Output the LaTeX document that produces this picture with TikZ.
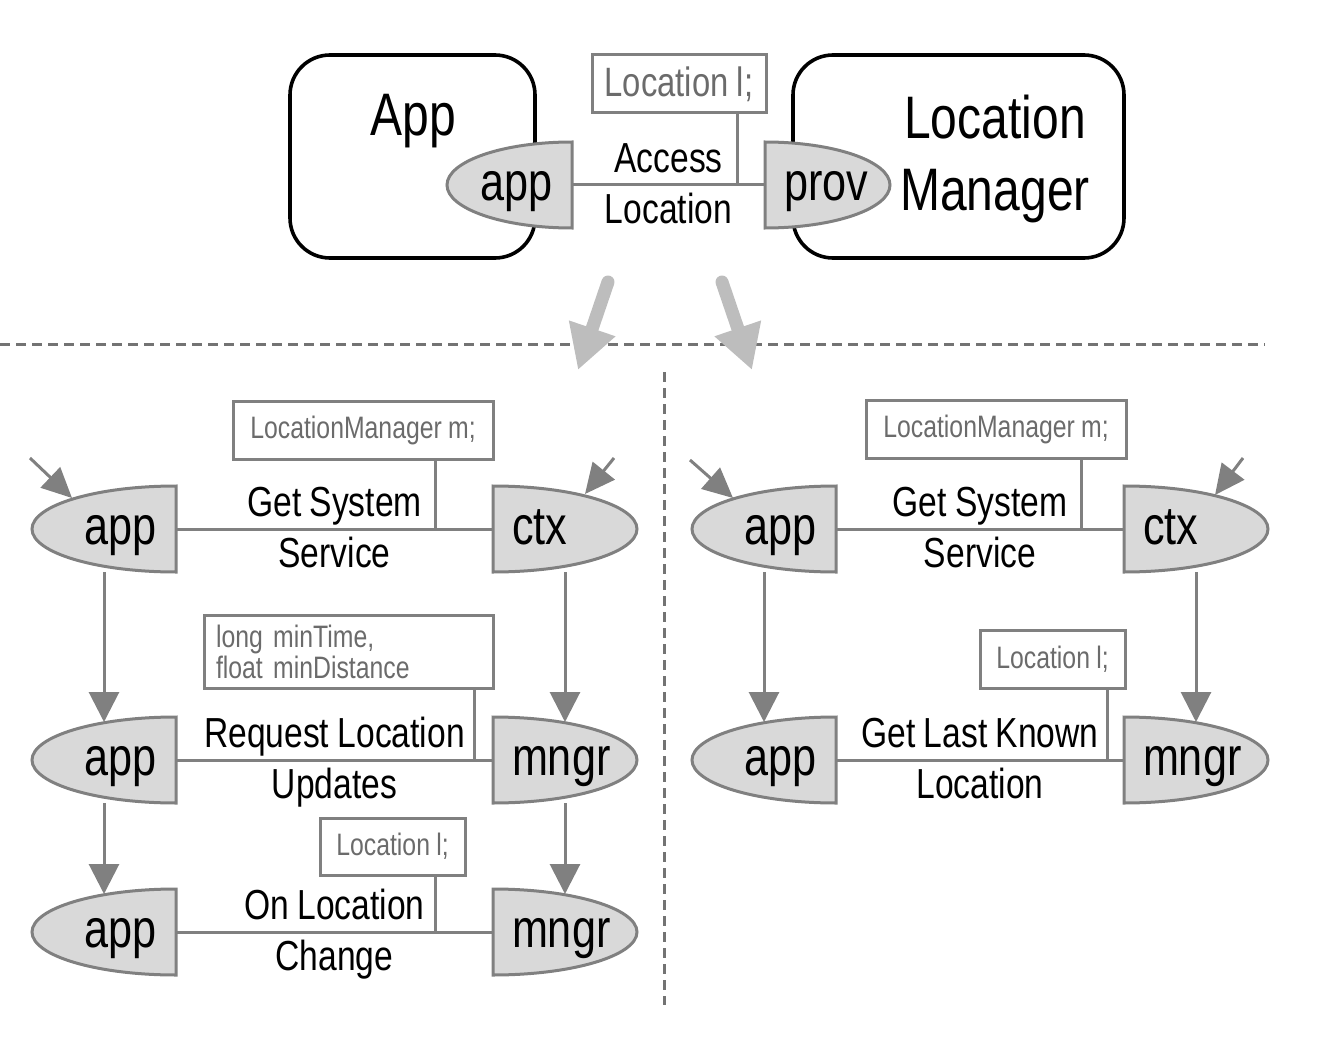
\documentclass[tikz,border=0pt]{standalone}
\usepackage{fontspec}
\setmainfont{Liberation Sans}[FakeStretch=0.8, WordSpace=0.9]
\usepackage{xcolor}
\usetikzlibrary{arrows.meta}
\usetikzlibrary{positioning}
\usetikzlibrary{calc}

\definecolor{linegray}{gray}{0.5}
\definecolor{rolefill}{gray}{0.85}
\definecolor{notegray}{gray}{0.42}
\definecolor{biggray}{gray}{0.74}
\definecolor{dashgray}{gray}{0.45}

\newcommand{\titlefont}{\fontsize{30}{36}\selectfont}
\newcommand{\rolefont}{\fontsize{27}{30}\selectfont}
\newcommand{\lblfont}{\fontsize{21}{24}\selectfont}
\newcommand{\notefont}{\fontsize{15.5}{15.5}\selectfont}
\newcommand{\bignotefont}{\fontsize{20.5}{22}\selectfont}

\tikzset{
  link/.style={draw=linegray, line width=1.5pt},
  flow/.style={link, -{Triangle[length=15pt,width=15pt]}, shorten >=-2.5pt},
  entry/.style={link, -{Triangle[length=15pt,width=14pt]}},
  bigarrow/.style={draw=biggray, line width=6.5pt, line cap=round,
    -{Triangle[length=22pt,width=23pt]}},
  sepline/.style={draw=dashgray, line width=1.5pt, dash pattern=on 5pt off 3pt},
  comp/.style={draw=black, line width=1.8pt, rounded corners=20pt, inner sep=0pt},
  roleshape/.style={fill=rolefill, draw=linegray, line width=1.5pt},
  roletext/.style={inner xsep=9.5pt, inner ysep=0pt, outer sep=0pt,
    text height=19.5pt, text depth=4pt, minimum height=43pt, font=\rolefont},
  note/.style={draw=linegray, line width=1.5pt, text=notegray, inner sep=0pt,
    minimum height=29pt, font=\notefont},
  lblup/.style={above, inner sep=1pt, text depth=4.5pt, font=\lblfont},
  lbldn/.style={below, inner sep=3.5pt, text height=15pt, font=\lblfont}
}

% role with its round side on the left
\newcommand{\roleL}[4][144]{%
  \pgfmathsetmacro{\rolew}{#1*0.5-19}%
  \filldraw[roleshape, shift={(#3)}] (#1/2,-43) -- (#1/2,43)
    arc[start angle=90, end angle=270, x radius=#1, y radius=43] -- cycle;
  \node[roletext, text width=\rolew pt, align=right] (#2) at (#3) {#4};}
% role with its round side on the right
\newcommand{\roleR}[4][144]{%
  \pgfmathsetmacro{\rolew}{#1*0.5-19}%
  \filldraw[roleshape, shift={(#3)}] (-#1/2,-43) -- (-#1/2,43)
    arc[start angle=90, end angle=-90, x radius=#1, y radius=43] -- cycle;
  \node[roletext, text width=\rolew pt, align=left] (#2) at (#3) {#4};}

\begin{document}
\begin{tikzpicture}[x=0.5pt, y=-0.5pt]
  \useasboundingbox (0,0) rectangle (1329,1038);

  % top: the whole connector
  \node[comp, minimum width=122.5pt, minimum height=101.5pt] (appbox) at (412.5,156.5) {};
  \node[comp, minimum width=165.5pt, minimum height=101.5pt] (lmbox) at (958.5,156.5) {};
  \node[font=\titlefont] (apptitle) at (413,121) {App};
  \node[font=\titlefont, align=center] (lmtitle) at (995,159) {Location\\Manager};
  \roleL[125]{apptop}{509.5,185}{app}
  \roleR[125]{provtop}{827.5,185}{prov}
  \node[note, font=\bignotefont, minimum width=87pt] (locnote) at (679,84) {Location l;};
  \coordinate (taptop) at (737,185);
  \draw[link] (apptop) -- node[lblup]{Access} node[lbldn]{Location} (provtop);
  \draw[link] (locnote.south -| taptop) -- (taptop);

  \coordinate (bigL1) at (608,282);
  \coordinate (bigL2) at (578,370);
  \coordinate (bigR1) at (722,282);
  \coordinate (bigR2) at (752,370);
  \coordinate (sepH1) at (0,344);
  \coordinate (sepH2) at (1265,344);
  \coordinate (sepV1) at (664,372);
  \coordinate (sepV2) at (664,1005);
  \draw[sepline] (sepH1) -- (sepH2);
  \draw[sepline] (sepV1) -- (sepV2);
  \draw[bigarrow] (bigL1) -- (bigL2);
  \draw[bigarrow] (bigR1) -- (bigR2);

  % left: request location updates
  \roleL{appA}{104,529}{app}
  \roleR{ctxA}{565,529}{ctx}
  \roleL{appB}{104,760}{app}
  \roleR{mngrB}{565,760}{mngr}
  \roleL{appC}{104,932}{app}
  \roleR{mngrC}{565,932}{mngr}

  \node[note, minimum width=130pt] (sysnoteA) at (363,430) {LocationManager m;};
  \node[note, text width=132.5pt, inner xsep=6pt, minimum height=36.5pt, align=left]
    (reqnote) at (348.5,651.5) {long minTime,\\float minDistance};
  \node[note, minimum width=72.5pt, minimum height=28.5pt] (chgnote) at (392.5,846.5) {Location l;};

  \coordinate (tapA) at (435,529);
  \coordinate (tapB) at (474,760);
  \coordinate (tapC) at (435,932);
  \draw[link] (appA) -- node[lblup]{Get System} node[lbldn]{Service} (ctxA);
  \draw[link] (appB) -- node[lblup]{Request Location} node[lbldn]{Updates} (mngrB);
  \draw[link] (appC) -- node[lblup]{On Location} node[lbldn]{Change} (mngrC);
  \draw[link] (sysnoteA.south -| tapA) -- (tapA);
  \draw[link] (reqnote.south -| tapB) -- (tapB);
  \draw[link] (chgnote.south -| tapC) -- (tapC);

  \draw[flow] (appA) -- (appB);
  \draw[flow] (appB) -- (appC);
  \draw[flow] (ctxA) -- (mngrB);
  \draw[flow] (mngrB) -- (mngrC);

  \coordinate (inA1) at (30,458);
  \coordinate (inA2) at (614,458);
  \draw[entry] (inA1) -- ($(appA.north west)+(40,12)$);
  \draw[entry] (inA2) -- ($(ctxA.north east)+(-52,8)$);

  % right: get last known location
  \roleL{appD}{764,529}{app}
  \roleR{ctxD}{1196,529}{ctx}
  \roleL{appE}{764,760}{app}
  \roleR{mngrE}{1196,760}{mngr}

  \node[note, minimum width=130pt] (sysnoteD) at (996,429) {LocationManager m;};
  \node[note, minimum width=72.5pt] (lastnote) at (1052.5,659) {Location l;};

  \coordinate (tapD) at (1081,529);
  \coordinate (tapE) at (1107,760);
  \draw[link] (appD) -- node[lblup]{Get System} node[lbldn]{Service} (ctxD);
  \draw[link] (appE) -- node[lblup]{Get Last Known} node[lbldn]{Location} (mngrE);
  \draw[link] (sysnoteD.south -| tapD) -- (tapD);
  \draw[link] (lastnote.south -| tapE) -- (tapE);

  \draw[flow] (appD) -- (appE);
  \draw[flow] (ctxD) -- (mngrE);

  \coordinate (inD1) at (690,460);
  \coordinate (inD2) at (1243,458);
  \draw[entry] (inD1) -- ($(appD.north west)+(41,12)$);
  \draw[entry] (inD2) -- ($(ctxD.north east)+(-53,9)$);
\end{tikzpicture}
\end{document}
